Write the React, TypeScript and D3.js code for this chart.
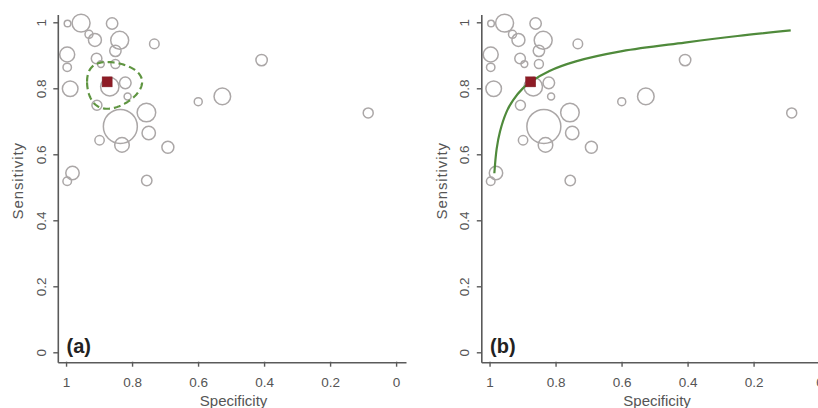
import React from 'react';
import * as d3 from 'd3';

// study estimates
const specificity = [0.997, 0.956, 0.862, 0.932, 0.914, 0.839, 0.852, 0.734, 0.998, 0.998, 0.909, 0.896, 0.852, 0.989, 0.869, 0.822, 0.815, 0.908, 0.837, 0.758, 0.751, 0.900, 0.832, 0.693, 0.982, 0.998, 0.757, 0.601, 0.528, 0.409, 0.086];
const sensitivity = [0.998, 0.999, 0.998, 0.965, 0.948, 0.947, 0.915, 0.936, 0.904, 0.865, 0.892, 0.875, 0.875, 0.800, 0.806, 0.818, 0.777, 0.750, 0.686, 0.728, 0.666, 0.644, 0.630, 0.623, 0.545, 0.520, 0.522, 0.761, 0.777, 0.887, 0.727];
const studySize = [44, 324, 130, 64, 169, 324, 130, 92, 225, 71, 112, 46, 81, 243, 339, 135, 49, 100, 1156, 346, 180, 88, 213, 144, 180, 74, 108, 64, 276, 130, 100];

// summary point and its confidence region (half widths on the logit scale)
const summarySpec = 0.877;
const summarySens = 0.821;
const regionLogitSpec = 0.75;
const regionLogitSens = 0.48;

// SROC curve
const srocSpec = [0.987, 0.98, 0.97, 0.95, 0.93, 0.9, 0.877, 0.82, 0.74, 0.6, 0.41, 0.25, 0.089];
const srocSens = [0.544, 0.618, 0.67, 0.73, 0.766, 0.802, 0.821, 0.854, 0.883, 0.914, 0.94, 0.96, 0.977];

const tickValues = [1, 0.8, 0.6, 0.4, 0.2, 0];
const tickLabels = ['1', '0.8', '0.6', '0.4', '0.2', '0'];
const panelLabels = ['(a)', '(b)'];

const font = 'Liberation Sans, Arial, Helvetica, sans-serif';
const axisColor = '#5a5a5a';
const textColor = '#555';

const logit = (p: number) => Math.log(p / (1 - p));
const expit = (v: number) => 1 / (1 + Math.exp(-v));

function Panel({ left, label, showRegion, showCurve }: { left: number; label: string; showRegion: boolean; showCurve: boolean }) {
  const x = d3.scaleLinear().domain([1.025, -0.03]).range([left, left + 348.2]);
  const y = d3.scaleLinear().domain([-0.03, 1.0236]).range([362.7, 15]);
  const r = d3.scaleSqrt().domain([0, 1200]).range([0, 17.3]);

  const studies = specificity.map((s, i) => ({ spec: s, sens: sensitivity[i], n: studySize[i] }));

  const ls = logit(summarySpec);
  const le = logit(summarySens);
  const region = d3.range(0, 2 * Math.PI, Math.PI / 90).map(t => [
    expit(ls + regionLogitSpec * Math.cos(t)),
    expit(le + regionLogitSens * Math.sin(t)),
  ]);
  const regionPath = d3.line<number[]>()
    .x(d => x(d[0]))
    .y(d => y(d[1]))
    .curve(d3.curveLinearClosed)(region);

  const curvePath = d3.line<number>()
    .x(d => x(srocSpec[d]))
    .y(d => y(srocSens[d]))
    .curve(d3.curveCatmullRom.alpha(0.5))(srocSpec.map((_, i) => i));

  const x0 = x.range()[0];
  const yBase = y.range()[0];
  const midY = (y(0) + y(1)) / 2;

  return (
    <g>
      {studies.map((d, i) => (
        <circle key={i} cx={x(d.spec)} cy={y(d.sens)} r={r(d.n)}
          fill="none" stroke="#aba7a7" strokeWidth={1.5} />
      ))}
      {showRegion && (
        <path d={regionPath || ''} fill="none" stroke="#5f9541" strokeWidth={2.2} strokeDasharray="7,4" />
      )}
      {showCurve && (
        <path d={curvePath || ''} fill="none" stroke="#4f8a3b" strokeWidth={2.2} />
      )}
      <rect x={x(summarySpec) - 5} y={y(summarySens) - 5} width={10} height={10} fill="#8e1c26" stroke="#7a1820" strokeWidth={0.5} />

      <line x1={x0} x2={x0} y1={y.range()[1]} y2={yBase} stroke={axisColor} strokeWidth={1.6} />
      <line x1={x0} x2={x.range()[1]} y1={yBase} y2={yBase} stroke={axisColor} strokeWidth={1.6} />
      {tickValues.map((v, i) => (
        <g key={'y' + i}>
          <line x1={x0 - 5} x2={x0} y1={y(v)} y2={y(v)} stroke={axisColor} strokeWidth={1.4} />
          <text transform={`translate(${x0 - 12.5},${y(v)}) rotate(-90)`} textAnchor="middle"
            fontFamily={font} fontSize={13.5} fill={textColor}>{tickLabels[i]}</text>
        </g>
      ))}
      {tickValues.map((v, i) => (
        <g key={'x' + i}>
          <line x1={x(v)} x2={x(v)} y1={yBase - 1} y2={yBase + 4} stroke={axisColor} strokeWidth={1.4} />
          <text x={x(v)} y={386.5} textAnchor="middle" fontFamily={font} fontSize={13.5} fill={textColor}>{tickLabels[i]}</text>
        </g>
      ))}
      <text x={(x(1) + x(0)) / 2 + 2} y={406} textAnchor="middle" fontFamily={font} fontSize={15} fill={textColor}>Specificity</text>
      <text transform={`translate(${x0 - 35},${midY - 7}) rotate(-90)`} textAnchor="middle"
        fontFamily={font} fontSize={15} letterSpacing={0.9} fill={textColor}>Sensitivity</text>
      <text x={x(1)} y={352.5} fontFamily={font} fontSize={20} fontWeight="bold" fill="#222">{label}</text>
    </g>
  );
}

export default function App() {
  return (
    <svg width={818} height={408} style={{ position: 'absolute', left: 0, top: 0, background: '#fff' }}>
      <rect width={818} height={408} fill="#fff" />
      <Panel left={58.3} label={panelLabels[0]} showRegion={true} showCurve={false} />
      <Panel left={481.8} label={panelLabels[1]} showRegion={false} showCurve={true} />
    </svg>
  );
}
